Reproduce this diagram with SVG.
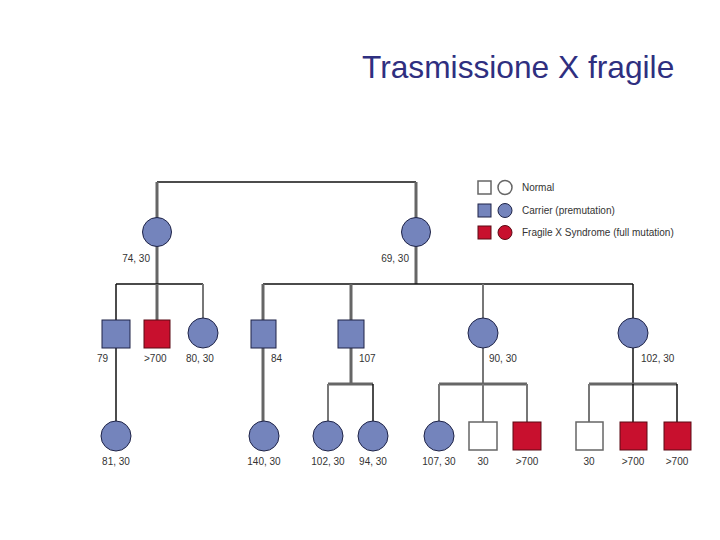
<svg xmlns="http://www.w3.org/2000/svg" width="720" height="540" viewBox="0 0 720 540">
<style>
.t{font-family:"Liberation Sans",Arial,sans-serif;font-size:10px;fill:#333}
.c{fill:#7484BC;stroke:#1e2347;stroke-width:1}
.r{fill:#C8102E;stroke:#5a0a14;stroke-width:1}
.w{fill:#fff;stroke:#666;stroke-width:1.5}
.k{stroke:#111;stroke-width:1.5;fill:none}
.g{stroke:#666;stroke-width:3;fill:none}
.g2{stroke:#777;stroke-width:2;fill:none}
.leg{font-family:"Liberation Sans",Arial,sans-serif;font-size:10px;fill:#333}
</style>
<rect width="720" height="540" fill="#fff"/>
<text x="362" y="78" font-family="Liberation Sans,Arial,sans-serif" font-size="31.7" fill="#2f2f80">Trasmissione X fragile</text>
<g id="connectors">
<path class="k" d="M157 182H416" stroke-width="2.5"/>
<path class="g" d="M157 182V218M157 246V284M416 182V218M416 246V284"/>
<path class="k" d="M116 284H203M263 284H633"/>
<path class="k" d="M116 284V320"/>
<path class="g" d="M157 284V320"/>
<path class="g2" d="M203 284V318"/>
<path class="g" d="M263 284V320M351 284V320"/>
<path class="g2" d="M483 284V318"/>
<path class="k" d="M633 284V318"/>
<path class="k" d="M116 348V421"/>
<path class="g" d="M263 348V421"/>
<path class="g" d="M351 348V384M328 384H373"/>
<path class="g2" d="M328 384V421"/>
<path class="k" d="M373 384V421" stroke-width="2"/>
<path class="g2" d="M483 348V384"/>
<path class="g" d="M439 384H527"/>
<path class="g2" d="M439 384V421M483 384V422M527 384V422"/>
<path class="k" d="M633 348V384"/>
<path class="g" d="M589 384H677"/>
<path class="g2" d="M589 384V422"/>
<path class="k" d="M633 384V422M677 384V422"/>
</g>
<g id="legend">
<rect x="478" y="181" width="13" height="13" class="w" stroke-width="1"/>
<circle cx="505" cy="187.5" r="7" class="w" stroke-width="1"/>
<text x="522" y="191" class="leg">Normal</text>
<rect x="478" y="204" width="13" height="13" class="c" stroke="none"/>
<circle cx="505" cy="210.5" r="7" class="c"/>
<text x="522" y="214" class="leg">Carrier (premutation)</text>
<rect x="478" y="226" width="13" height="13" class="r" stroke="none"/>
<circle cx="505" cy="232.5" r="7" class="r" stroke="none"/>
<text x="522" y="236" class="leg">Fragile X Syndrome (full mutation)</text>
</g>
<g id="p1"><circle cx="157" cy="232" r="14.5" class="c"/><text x="150" y="262" class="t" text-anchor="end">74, 30</text></g>
<g id="p2"><circle cx="416" cy="232" r="14.5" class="c"/><text x="409" y="262" class="t" text-anchor="end">69, 30</text></g>
<g id="g2a"><rect x="102" y="320" width="28" height="28" class="c" stroke="none"/><text x="97" y="362" class="t">79</text></g>
<g id="g2b"><rect x="144" y="320" width="26" height="28" class="r"/><text x="144" y="362" class="t">&gt;700</text></g>
<g id="g2c"><circle cx="203" cy="333" r="15" class="c"/><text x="186" y="362" class="t">80, 30</text></g>
<g id="g2d"><rect x="251" y="320" width="25" height="28" class="c"/><text x="271" y="362" class="t">84</text></g>
<g id="g2e"><rect x="338" y="320" width="26" height="28" class="c" stroke="none"/><text x="359" y="362" class="t">107</text></g>
<g id="g2f"><circle cx="483" cy="333" r="15" class="c"/><text x="489" y="362" class="t">90, 30</text></g>
<g id="g2g"><circle cx="633" cy="333" r="15" class="c"/><text x="641" y="362" class="t">102, 30</text></g>
<g id="g3a"><circle cx="116" cy="436" r="15" class="c"/><text x="116" y="465" class="t" text-anchor="middle">81, 30</text></g>
<g id="g3b"><circle cx="264" cy="436" r="15" class="c"/><text x="264" y="465" class="t" text-anchor="middle">140, 30</text></g>
<g id="g3c"><circle cx="328" cy="436" r="15" class="c"/><text x="328" y="465" class="t" text-anchor="middle">102, 30</text></g>
<g id="g3d"><circle cx="373" cy="436" r="15" class="c"/><text x="373" y="465" class="t" text-anchor="middle">94, 30</text></g>
<g id="g3e"><circle cx="439" cy="436" r="15" class="c"/><text x="439" y="465" class="t" text-anchor="middle">107, 30</text></g>
<g id="g3f"><rect x="469" y="422" width="28" height="28" class="w"/><text x="483" y="465" class="t" text-anchor="middle">30</text></g>
<g id="g3g"><rect x="513" y="422" width="28" height="28" class="r"/><text x="527" y="465" class="t" text-anchor="middle">&gt;700</text></g>
<g id="g3h"><rect x="576" y="422" width="27" height="28" class="w"/><text x="589" y="465" class="t" text-anchor="middle">30</text></g>
<g id="g3i"><rect x="620" y="422" width="27" height="28" class="r"/><text x="633" y="465" class="t" text-anchor="middle">&gt;700</text></g>
<g id="g3j"><rect x="664" y="422" width="27" height="28" class="r"/><text x="677" y="465" class="t" text-anchor="middle">&gt;700</text></g>
</svg>
